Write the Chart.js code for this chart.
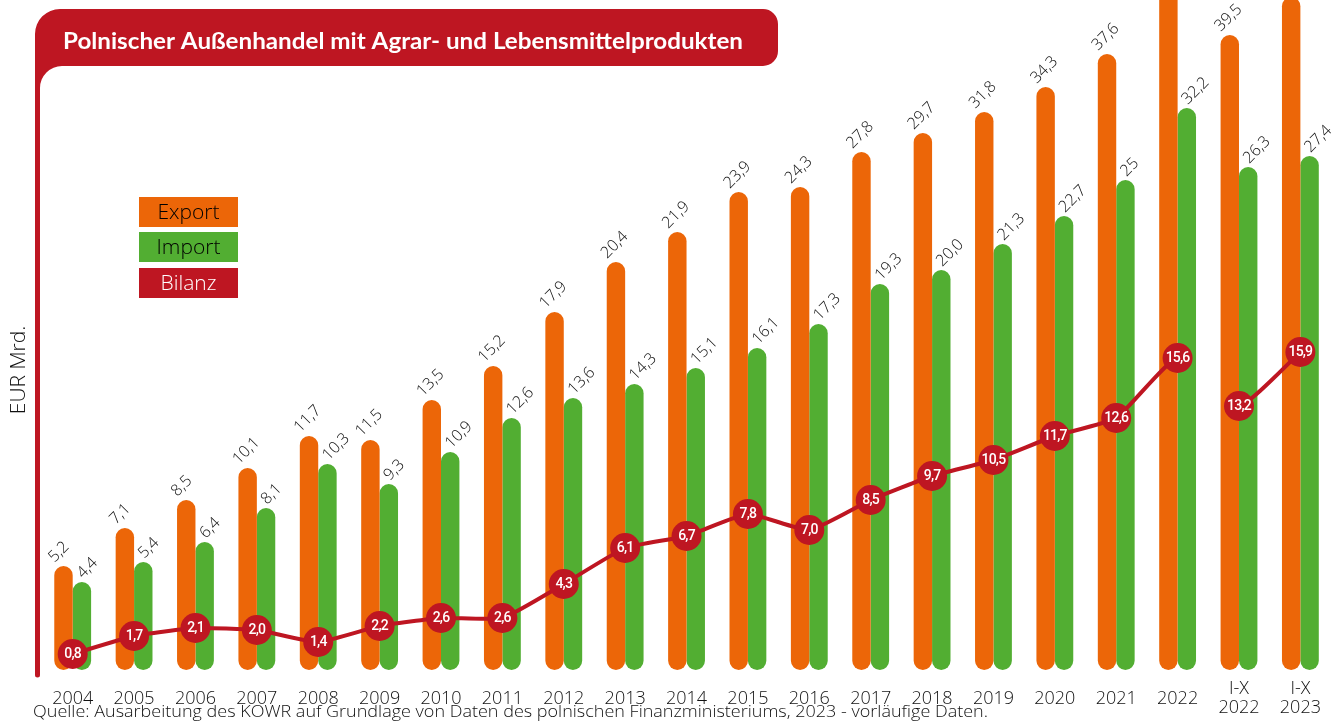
<!DOCTYPE html>
<html>
<head>
<meta charset="utf-8">
<script src="https://cdn.jsdelivr.net/npm/chart.js@4.4.1/dist/chart.umd.min.js"></script>
<style>
  html, body { margin: 0; padding: 0; background: #fff; }
  #wrap { width: 1340px; height: 723px; position: relative; }
</style>
</head>
<body>
<div id="wrap"><canvas id="tradeChart"></canvas></div>
<script>
const categories = [
  "2004", "2005", "2006", "2007", "2008", "2009", "2010", "2011", "2012", "2013",
  "2014", "2015", "2016", "2017", "2018", "2019", "2020", "2021", "2022",
  ["I-X", "2022"], ["I-X", "2023"],
];
const exportValues = [5.2, 7.1, 8.5, 10.1, 11.7, 11.5, 13.5, 15.2, 17.9, 20.4, 21.9, 23.9, 24.3, 27.8, 29.7, 31.8, 34.3, 37.6, 47.8, 39.5, 43.3];
const importValues = [4.4, 5.4, 6.4, 8.1, 10.3, 9.3, 10.9, 12.6, 13.6, 14.3, 15.1, 16.1, 17.3, 19.3, 20.0, 21.3, 22.7, 25, 32.2, 26.3, 27.4];
const balanceValues = [0.8, 1.7, 2.1, 2.0, 1.4, 2.2, 2.6, 2.6, 4.3, 6.1, 6.7, 7.8, 7.0, 8.5, 9.7, 10.5, 11.7, 12.6, 15.6, 13.2, 15.9];

const titleText = "Polnischer Außenhandel mit Agrar- und Lebensmittelprodukten";
const axisTitle = "EUR Mrd.";
const sourceText = "Quelle: Ausarbeitung des KOWR auf Grundlage von Daten des polnischen Finanzministeriums, 2023 - vorläufige Daten.";

const ORANGE = "#ec6608";
const GREEN = "#52ae32";
const RED = "#be1622";
const TEXT = "#111";

// the original infographic squeezes the top of the value axis
const BREAK = 24;
const SLOPE = 0.5;

class CompressedScale extends Chart.LinearScale {
  fwd(v) { return v <= BREAK ? v : BREAK + (v - BREAK) * SLOPE; }
  inv(t) { return t <= BREAK ? t : BREAK + (t - BREAK) / SLOPE; }
  getPixelForValue(value) {
    if (value === null || value === undefined || isNaN(value)) return NaN;
    const a = this.fwd(this.min), b = this.fwd(this.max);
    return this.getPixelForDecimal((this.fwd(value) - a) / (b - a));
  }
  getValueForPixel(pixel) {
    const a = this.fwd(this.min), b = this.fwd(this.max);
    return this.inv(a + this.getDecimalForPixel(pixel) * (b - a));
  }
}
CompressedScale.id = "compressed";
CompressedScale.defaults = Chart.LinearScale.defaults;
Chart.register(CompressedScale);

const fmt = (v) => (v === 25 ? "25" : v.toFixed(1).replace(".", ","));

function fitText(ctx, text, x, y, maxWidth) {
  const w = ctx.measureText(text).width;
  const sx = maxWidth / w;
  ctx.save();
  ctx.translate(x, y);
  ctx.scale(sx, 1);
  ctx.fillText(text, 0, 0);
  ctx.restore();
}

const framePlugin = {
  id: "frame",
  beforeDraw(chart) {
    const ctx = chart.ctx;
    ctx.save();
    ctx.fillStyle = RED;
    ctx.beginPath();
    ctx.moveTo(35, 675);
    ctx.lineTo(35, 34);
    ctx.arcTo(35, 9, 60, 9, 25);
    ctx.arcTo(778, 9, 778, 66, 15);
    ctx.arcTo(778, 66, 40, 66, 15);
    ctx.arcTo(40, 66, 40, 675, 22);
    ctx.lineTo(40, 675);
    ctx.arc(37.5, 675, 2.5, 0, Math.PI);
    ctx.closePath();
    ctx.fill();

    ctx.fillStyle = "#fff";
    ctx.font = "bold 23px Lato";
    ctx.textBaseline = "alphabetic";
    ctx.textAlign = "left";
    fitText(ctx, titleText, 63, 49, 680);

    ctx.fillStyle = TEXT;
    ctx.font = "300 21px 'Open Sans'";
    ctx.textAlign = "center";
    ctx.textBaseline = "middle";
    ctx.translate(19, 370);
    ctx.rotate(-Math.PI / 2);
    ctx.fillText(axisTitle, 0, 0);
    ctx.restore();
  },
  afterDatasetsDraw(chart) {
    const ctx = chart.ctx;
    const area = chart.chartArea;
    ctx.save();
    ctx.fillStyle = TEXT;
    ctx.font = "300 16px 'Open Sans'";
    ctx.textAlign = "left";
    ctx.textBaseline = "alphabetic";
    const shift = [-9, 1];
    [0, 1].forEach((di) => {
      const values = chart.data.datasets[di].data;
      chart.getDatasetMeta(di).data.forEach((bar, i) => {
        if (bar.y < area.top + 30) return;
        ctx.save();
        ctx.translate(bar.x + shift[di], bar.y - 3);
        ctx.rotate(-Math.PI / 4);
        ctx.fillText(fmt(values[i]), 0, 0);
        ctx.restore();
      });
    });

    ctx.fillStyle = "#fff";
    ctx.font = "500 14px Roboto";
    ctx.textAlign = "center";
    ctx.textBaseline = "middle";
    ctx.letterSpacing = "-0.8px";
    const bal = chart.data.datasets[2].data;
    chart.getDatasetMeta(2).data.forEach((pt, i) => {
      ctx.fillText(fmt(bal[i]), pt.x, pt.y + 0.5);
    });
    ctx.restore();
  },
  afterDraw(chart) {
    const ctx = chart.ctx;
    ctx.save();
    const legend = [
      { label: "Export", bg: ORANGE, fg: "#000" },
      { label: "Import", bg: GREEN, fg: "#000" },
      { label: "Bilanz", bg: RED, fg: "#fff" },
    ];
    const tops = [197, 232, 268];
    ctx.font = "300 21px 'Open Sans'";
    ctx.textAlign = "center";
    ctx.textBaseline = "middle";
    legend.forEach((item, i) => {
      ctx.fillStyle = item.bg;
      ctx.fillRect(139, tops[i], 99, 30);
      ctx.fillStyle = item.fg;
      ctx.fillText(item.label, 188.5, tops[i] + 16);
    });

    ctx.fillStyle = TEXT;
    ctx.font = "300 17px 'Open Sans'";
    ctx.textAlign = "left";
    ctx.textBaseline = "middle";
    fitText(ctx, sourceText, 33, 712, 955);
    ctx.restore();
  },
};

const ctx = document.getElementById("tradeChart");

new Chart(ctx, {
  type: "bar",
  data: {
    labels: categories,
    datasets: [
      {
        label: "Export",
        data: exportValues,
        backgroundColor: ORANGE,
        borderRadius: 10,
        borderSkipped: false,
        categoryPercentage: 0.6,
        barPercentage: 1.0,
        order: 1,
      },
      {
        label: "Import",
        data: importValues,
        backgroundColor: GREEN,
        borderRadius: 10,
        borderSkipped: false,
        categoryPercentage: 0.6,
        barPercentage: 1.0,
        order: 1,
      },
      {
        type: "line",
        label: "Bilanz",
        data: balanceValues,
        borderColor: RED,
        borderWidth: 4,
        tension: 0.15,
        pointRadius: 15,
        pointHoverRadius: 15,
        pointBackgroundColor: RED,
        pointBorderWidth: 0,
        order: 0,
        segment: {
          borderColor: (c) => (c.p0DataIndex === 18 ? "rgba(0,0,0,0)" : RED),
        },
      },
    ],
  },
  options: {
    responsive: true,
    maintainAspectRatio: false,
    animation: false,
    layout: { autoPadding: false, padding: { left: 42, right: 3, top: 0, bottom: 0 } },
    plugins: {
      legend: { display: false },
      title: { display: false },
      tooltip: { enabled: false },
    },
    scales: {
      x: {
        grid: { display: false, drawTicks: false },
        border: { display: false },
        ticks: {
          color: TEXT,
          font: { family: "'Open Sans'", size: 18, weight: 300, lineHeight: 1.05 },
          padding: 19,
          maxRotation: 0,
          autoSkip: false,
          crossAlign: "center",
        },
        afterFit: (scale) => { scale.height = 53; },
      },
      y: {
        type: "compressed",
        display: false,
        min: 0,
        max: 43,
      },
    },
  },
  plugins: [framePlugin],
});
</script>
</body>
</html>
